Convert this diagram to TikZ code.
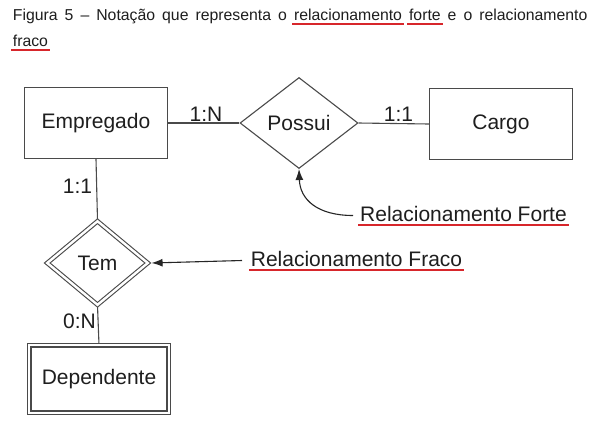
\documentclass[tikz,border=0pt]{standalone}
\usepackage{fontspec}
\setmainfont{Liberation Sans}
\usetikzlibrary{shapes.geometric,arrows.meta,backgrounds}
\definecolor{ulred}{HTML}{D7262B}
\definecolor{linec}{HTML}{4A4A4A}
\definecolor{txt}{HTML}{1E1E1E}
\newcommand\diagfont{\fontsize{21}{25}\selectfont}
\newcommand\titlefont{\fontsize{15.8}{19}\selectfont}
\newcommand\redul[1]{\setbox0\hbox{#1}\leavevmode\rlap{\kern-2pt\textcolor{ulred}{\rule[-4.4pt]{\dimexpr\wd0+4pt\relax}{1.9pt}}}\box0\relax}
\begin{document}
\begin{tikzpicture}[x=1pt,y=-1pt,
  ent/.style={rectangle, draw=linec, line width=1.1pt, fill=white, minimum width=143pt, minimum height=71pt, inner sep=0pt, font=\diagfont, text=txt},
  rel/.style={diamond, draw=linec, line width=1.1pt, fill=white, inner sep=0pt, font=\diagfont, text=txt},
  weak/.style={double=white, double distance=2.4pt},
  card/.style={font=\diagfont, text=txt, inner sep=0pt, anchor=base},
  conn/.style={draw=linec, line width=1.1pt},
  arr/.style={draw=black!85, line width=1.1pt, -{Latex[length=11pt,width=8pt]}}]
\useasboundingbox (0,0) rectangle (594,429);

% title
\node[anchor=base west, inner sep=0pt, font=\titlefont, text=txt] (t1) at (12.7,20.7)
  {\makebox[574.5pt][s]{Figura 5 – Notação que representa o \redul{relacionamento} \redul{forte} e o relacionamento}};
\node[anchor=base west, inner sep=0pt, font=\titlefont, text=txt] (t2) at (12.7,46.7) {\redul{fraco}};

% entities and relationships
\node[ent] (emp) at (96,123) {Empregado};
\node[ent] (cargo) at (501,124) {Cargo};
\node[rel, minimum width=118pt, minimum height=91pt] (possui) at (299,123) {Possui};
\node[rel, weak, minimum width=101pt, minimum height=84pt] (tem) at (97.5,263) {Tem};
\node[ent, weak, minimum width=139.5pt, minimum height=67.5pt] (dep) at (99,379) {Dependente};

\begin{scope}[on background layer]
  \fill[white] (0,0) rectangle (594,429);
  \draw[conn] (emp.east) -- (possui.west);
  \draw[conn] (possui.east) -- (cargo.west);
  \draw[conn] (emp.south) -- (tem.north);
  \draw[conn] (tem.south) -- (dep.north);
\end{scope}

% cardinalities
\node[card] (c1) at (206,121.7) {1:N};
\node[card] (c2) at (398.5,121.7) {1:1};
\node[card] (c3) at (77.5,193) {1:1};
\node[card] (c4) at (79.5,328) {0:N};

% annotations
\node[card, anchor=base west] (forte) at (360,221.7) {\redul{Relacionamento Forte}};
\node[card, anchor=base west] (fraco) at (250.7,266.7) {\redul{Relacionamento Fraco}};
\coordinate (fs) at (353,215.5);
\coordinate (rs) at (242,260.5);
\draw[arr] (fs) .. controls (318,215.5) and (300,200) .. (possui.south);
\draw[arr] (rs) -- ([xshift=3pt]tem.east);
\end{tikzpicture}
\end{document}
